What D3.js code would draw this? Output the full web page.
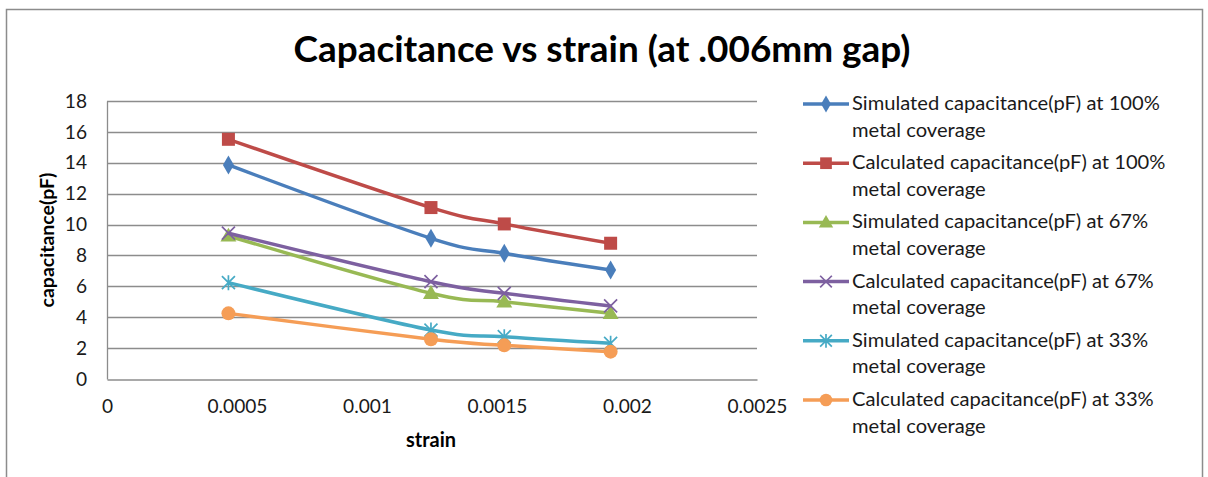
<!DOCTYPE html>
<html>
<head>
<meta charset="utf-8">
<script src="https://cdn.jsdelivr.net/npm/d3@7"></script>
<style>
  html, body { margin: 0; padding: 0; background: #fff; }
  svg { display: block; }
  text { font-family: Lato, "Open Sans", sans-serif; }
</style>
</head>
<body>
<svg id="chart" width="1208" height="477"></svg>
<script>
// ---- data ----
const strain = [0.000467, 0.001246, 0.001528, 0.001937];
const simulated100 = [13.86, 9.11, 8.14, 7.06];
const calculated100 = [15.52, 11.10, 10.04, 8.79];
const simulated67 = [9.26, 5.55, 5.00, 4.25];
const calculated67 = [9.44, 6.30, 5.55, 4.73];
const simulated33 = [6.24, 3.17, 2.74, 2.31];
const calculated33 = [4.25, 2.57, 2.18, 1.77];
const seriesNames = [
  "Simulated capacitance(pF) at 100% metal coverage",
  "Calculated capacitance(pF) at 100% metal coverage",
  "Simulated capacitance(pF) at 67% metal coverage",
  "Calculated capacitance(pF) at 67% metal coverage",
  "Simulated capacitance(pF) at 33% metal coverage",
  "Calculated capacitance(pF) at 33% metal coverage"
];
const xTickValues = [0, 0.0005, 0.001, 0.0015, 0.002, 0.0025];
const xTickLabels = ["0", "0.0005", "0.001", "0.0015", "0.002", "0.0025"];
const yTickValues = [0, 2, 4, 6, 8, 10, 12, 14, 16, 18];
const yTickLabels = ["0", "2", "4", "6", "8", "10", "12", "14", "16", "18"];
const titleText = "Capacitance vs strain (at .006mm gap)";
const xTitle = "strain";
const yTitle = "capacitance(pF)";

const seriesValues = [simulated100, calculated100, simulated67, calculated67, simulated33, calculated33];
const colors = ["#4A7EBB", "#BE4B48", "#98B954", "#7D60A0", "#46AAC5", "#F59D56"];
const markers = ["diamond", "square", "triangle", "x", "star", "circle"];

const svg = d3.select("#chart");

// chart frame
svg.append("rect").attr("x", 6.5).attr("y", 9.5).attr("width", 1196).attr("height", 480)
  .attr("fill", "#fff").attr("stroke", "#8c8c8c").attr("stroke-width", 1.5);

const x = d3.scaleLinear().domain([0, 0.0025]).range([107, 757]);
const y = d3.scaleLinear().domain([0, 18]).range([379, 101]);

function fitSize(sel, targetWidth, startSize) {
  sel.style("font-size", startSize + "px");
  const w = sel.node().getComputedTextLength();
  return startSize * targetWidth / w;
}

// gridlines
svg.append("g").selectAll("line").data(yTickValues.filter(v => v > 0)).join("line")
  .attr("x1", x(0)).attr("x2", x(0.0025))
  .attr("y1", d => Math.round(y(d)) + 0.5).attr("y2", d => Math.round(y(d)) + 0.5)
  .attr("stroke", "#8c8c8c").attr("stroke-width", 1.3);

// axes
const yAxis = svg.append("g").attr("transform", `translate(${x(0)},0)`)
  .call(d3.axisLeft(y).tickValues(yTickValues).tickFormat((d, i) => yTickLabels[i]).tickSize(0).tickPadding(20));
yAxis.select(".domain").attr("stroke", "#8c8c8c").attr("stroke-width", 1.3);

const xAxis = svg.append("g").attr("transform", `translate(0,${Math.round(y(0)) + 0.5})`)
  .call(d3.axisBottom(x).tickValues(xTickValues).tickFormat((d, i) => xTickLabels[i]).tickSize(0).tickPadding(20));
xAxis.select(".domain").attr("stroke", "#8c8c8c").attr("stroke-width", 1.3);

const tickSize = fitSize(xAxis.selectAll("text").filter((d, i) => i === 1), 60, 16);
svg.selectAll(".tick text").attr("fill", "#1a1a1a").style("font-size", tickSize + "px").attr("font-family", "Lato, sans-serif");

// title
const t = svg.append("text").attr("x", 602).attr("y", 62).attr("text-anchor", "middle")
  .attr("font-weight", "bold").attr("fill", "#000").text(titleText);
t.style("font-size", fitSize(t, 617, 30) + "px");

// axis titles
const xt = svg.append("text").attr("x", 431).attr("y", 447).attr("text-anchor", "middle")
  .attr("font-weight", "bold").attr("fill", "#000").text(xTitle);
xt.style("font-size", fitSize(xt, 50, 16) + "px");
const yt = svg.append("text").attr("transform", "translate(54,240) rotate(-90)").attr("text-anchor", "middle")
  .attr("font-weight", "bold").attr("fill", "#000").text(yTitle);
yt.style("font-size", fitSize(yt, 135, 16) + "px");

// marker drawing
function drawMarker(g, type, color, cx, cy, scale) {
  scale = scale || 1;
  if (type === "diamond") {
    g.append("path").attr("d", d3.symbol(d3.symbolDiamond, 105 * scale * scale)())
      .attr("transform", `translate(${cx},${cy})`).attr("fill", color);
  } else if (type === "square") {
    const s = 13 * scale;
    g.append("rect").attr("x", cx - s / 2).attr("y", cy - s / 2).attr("width", s).attr("height", s).attr("fill", color);
  } else if (type === "triangle") {
    g.append("path").attr("d", d3.symbol(d3.symbolTriangle, 110 * scale * scale)())
      .attr("transform", `translate(${cx},${cy + 1})`).attr("fill", color);
  } else if (type === "x") {
    const r = 6.5 * scale;
    g.append("path").attr("d", `M${cx - r},${cy - r}L${cx + r},${cy + r}M${cx - r},${cy + r}L${cx + r},${cy - r}`)
      .attr("stroke", color).attr("stroke-width", 1.7).attr("fill", "none");
  } else if (type === "star") {
    const r = 6.5 * scale;
    g.append("path").attr("d", `M${cx - r},${cy - r}L${cx + r},${cy + r}M${cx - r},${cy + r}L${cx + r},${cy - r}M${cx},${cy - r - 1}L${cx},${cy + r + 1}`)
      .attr("stroke", color).attr("stroke-width", 1.7).attr("fill", "none");
  } else if (type === "circle") {
    g.append("circle").attr("cx", cx).attr("cy", cy).attr("r", 7 * scale).attr("fill", color);
  }
}

// lines
const line = d3.line().x((d, i) => x(strain[i])).y(d => y(d)).curve(d3.curveCardinal.tension(0));
const plot = svg.append("g");
seriesValues.forEach((vals, si) => {
  const g = plot.append("g");
  g.append("path").datum(vals).attr("d", line).attr("fill", "none")
    .attr("stroke", colors[si]).attr("stroke-width", 3.5).attr("stroke-linejoin", "round");
  vals.forEach((v, i) => drawMarker(g, markers[si], colors[si], x(strain[i]), y(v)));
});

// legend
const legend = svg.append("g");
seriesNames.forEach((name, i) => {
  const cy = 104 + i * 59.2;
  const g = legend.append("g");
  g.append("line").attr("x1", 803).attr("x2", 849).attr("y1", cy).attr("y2", cy)
    .attr("stroke", colors[i]).attr("stroke-width", 3.5);
  drawMarker(g, markers[i], colors[i], 826, cy, 0.9);
  const parts = name.split(" metal ");
  g.append("text").attr("x", 852).attr("y", cy + 6).attr("fill", "#1a1a1a").text(parts[0]);
  g.append("text").attr("x", 852).attr("y", cy + 32.5).attr("fill", "#1a1a1a").text("metal " + parts[1]);
});
const legSize = fitSize(legend.select("text"), 308, 16);
legend.selectAll("text").style("font-size", legSize + "px");
</script>
</body>
</html>
